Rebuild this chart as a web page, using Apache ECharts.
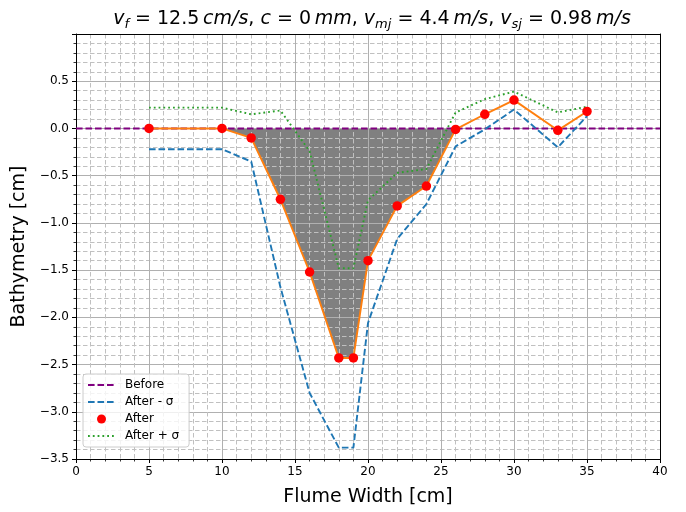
<!DOCTYPE html>
<html>
<head>
<meta charset="utf-8">
<script src="https://cdn.jsdelivr.net/npm/echarts@6/dist/echarts.min.js"></script>
<style>html,body{margin:0;padding:0;background:#fff;}#c{width:686px;height:512px;}</style>
</head>
<body>
<div id="c"></div>
<script>
// ---- data ----
const xAfter = [5, 10, 12, 14, 16, 18, 19, 20, 22, 24, 26, 28, 30, 33, 35];
const yAfter = [0, 0, -0.10, -0.75, -1.52, -2.43, -2.43, -1.40, -0.82, -0.61, -0.01, 0.15, 0.30, -0.02, 0.18];
const yAfterMinus = [-0.22, -0.22, -0.35, -1.68, -2.80, -3.38, -3.38, -2.06, -1.17, -0.80, -0.19, -0.01, 0.20, -0.20, 0.13];
const yAfterPlus = [0.22, 0.22, 0.15, 0.19, -0.24, -1.48, -1.48, -0.76, -0.47, -0.43, 0.17, 0.31, 0.39, 0.17, 0.23];
const xBefore = [0, 40];
const yBefore = [0, 0];
const fillStart = 1, fillEnd = 10; // indices of After where the scour region lies (x = 10 .. 26)
const xTicks = [0, 5, 10, 15, 20, 25, 30, 35, 40];
const yTicks = [-3.5, -3.0, -2.5, -2.0, -1.5, -1.0, -0.5, 0.0, 0.5];

const pairs = (xs, ys) => xs.map((x, i) => [x, ys[i]]);
const FONT = 'DejaVu Sans';

const chart = echarts.init(document.getElementById('c'), null, {renderer: 'canvas'});

const axisCommon = {
  type: 'value',
  z: 1.5,
  axisLine: {show: true, onZero: false, lineStyle: {color: '#000', width: 1}},
  axisTick: {show: true, length: 4, lineStyle: {color: '#000', width: 1}},
  minorTick: {show: true, splitNumber: 5, length: 2.5, lineStyle: {color: '#000', width: 0.8}},
  splitLine: {show: true, lineStyle: {color: '#b0b0b0', width: 1}},
  minorSplitLine: {show: true, lineStyle: {color: '#c0c0c0', width: 1, type: [4.5, 2.5]}},
};
const frameAxis = {
  type: 'value', z: 1.5,
  axisLine: {show: true, onZero: false, lineStyle: {color: '#000', width: 1}},
  axisTick: {show: false}, axisLabel: {show: false}, splitLine: {show: false}
};

const sub = {fontFamily: FONT, fontStyle: 'italic', fontSize: 13, lineHeight: 9, verticalAlign: 'bottom', color: '#000'};
const hideSym = {opacity: 0};
const option = {
  animation: false,
  title: {
    text: '{iv|v}{sub|f}{n| = 12.5\u2009}{i|cm/s}{n|, }{i|c}{n| = 0\u2009}{i|mm}{n|, }{iv|v}{sub|mj}{n| = 4.4\u2009}{i|m/s}{n|, }{iv|v}{sub|sj}{n| = 0.98\u2009}{i|m/s}',
    left: 367, top: 2, textAlign: 'center',
    textStyle: {
      fontFamily: FONT, fontSize: 19, fontWeight: 'normal', color: '#000', lineHeight: 24,
      rich: {
        iv: {fontFamily: FONT, fontStyle: 'italic', fontSize: 19, lineHeight: 24, color: '#000'},
        i: {fontFamily: FONT, fontStyle: 'italic', fontSize: 19, lineHeight: 24, color: '#000'},
        n: {fontFamily: FONT, fontSize: 19, lineHeight: 24, color: '#000'},
        sub: sub
      }
    }
  },
  grid: {left: 76, right: 26, top: 34, bottom: 50, containLabel: false},
  legend: {
    orient: 'vertical', left: 83, top: 374,
    data: [
      {name: 'Before', itemStyle: hideSym},
      {name: 'After - σ', itemStyle: hideSym},
      {name: 'After'},
      {name: 'After + σ', itemStyle: hideSym}
    ],
    itemWidth: 27, itemHeight: 9, itemGap: 5,
    padding: [5, 10, 5, 4],
    borderColor: '#cccccc', borderWidth: 1, borderRadius: 3,
    backgroundColor: 'rgba(255,255,255,0.8)',
    textStyle: {fontFamily: FONT, fontSize: 12, color: '#000', padding: [0, 0, 0, 5]},
    z: 10
  },
  xAxis: [
    Object.assign({}, axisCommon, {
      min: xTicks[0], max: xTicks[xTicks.length - 1], interval: 5, position: 'bottom',
      axisLabel: {margin: 7, fontFamily: FONT, fontSize: 12, color: '#000'},
      name: 'Flume Width [cm]', nameLocation: 'middle', nameGap: 29,
      nameTextStyle: {fontFamily: FONT, fontSize: 19, color: '#000'}
    }),
    Object.assign({}, frameAxis, {min: 0, max: 40, position: 'top'})
  ],
  yAxis: [
    Object.assign({}, axisCommon, {
      min: yTicks[0], max: 1.0, interval: 0.5, position: 'left',
      axisLabel: {
        margin: 7, fontFamily: FONT, fontSize: 12, color: '#000',
        formatter: v => (Math.abs(v - 1) < 1e-9) ? '' : v.toFixed(1).replace('-', '\u2212')
      },
      name: 'Bathymetry [cm]', nameLocation: 'middle', nameGap: 38,
      nameTextStyle: {fontFamily: FONT, fontSize: 19, color: '#000'}
    }),
    Object.assign({}, frameAxis, {min: -3.5, max: 1.0, position: 'right'})
  ],
  series: [
    {
      name: 'scour', type: 'line', z: 1, silent: true,
      data: pairs(xAfter.slice(fillStart, fillEnd + 1), yAfter.slice(fillStart, fillEnd + 1)),
      symbol: 'none', lineStyle: {width: 0, opacity: 0},
      areaStyle: {color: '#808080', opacity: 1, origin: 0}
    },
    {
      name: 'Before', type: 'line', z: 2, data: pairs(xBefore, yBefore),
      symbol: 'none', color: '#800080',
      lineStyle: {color: '#800080', width: 1.9, type: [6.6, 2.9], cap: 'butt'}
    },
    {
      name: 'After - σ', type: 'line', z: 2, data: pairs(xAfter, yAfterMinus),
      symbol: 'none', color: '#1f77b4',
      lineStyle: {color: '#1f77b4', width: 1.9, type: [6.6, 2.9], cap: 'butt'}
    },
    {
      name: 'After + σ', type: 'line', z: 2, data: pairs(xAfter, yAfterPlus),
      symbol: 'none', color: '#2ca02c',
      lineStyle: {color: '#2ca02c', width: 1.9, type: [1.8, 3.0], cap: 'butt'}
    },
    {
      name: 'afterLine', type: 'line', z: 2, data: pairs(xAfter, yAfter),
      symbol: 'none', color: '#ff7f0e',
      lineStyle: {color: '#ff7f0e', width: 1.9}
    },
    {
      name: 'After', type: 'scatter', z: 3, data: pairs(xAfter, yAfter),
      symbol: 'circle', symbolSize: 9.5, color: '#ff0000',
      itemStyle: {color: '#ff0000', opacity: 1}
    }
  ]
};
chart.setOption(option);
</script>
</body>
</html>
